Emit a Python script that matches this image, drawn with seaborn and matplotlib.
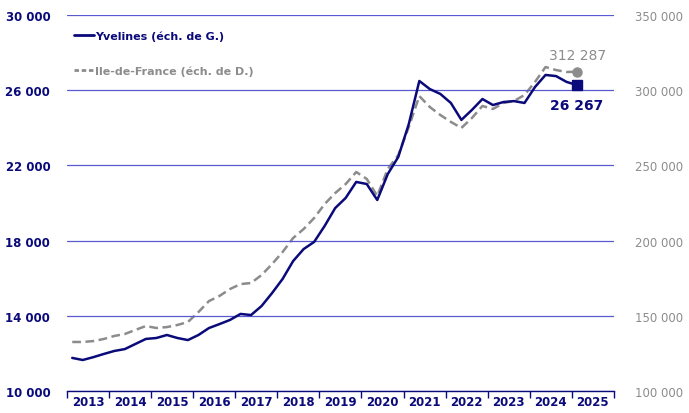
import matplotlib
matplotlib.use("Agg")
import matplotlib.pyplot as plt
import seaborn as sns
import numpy as np
import pandas as pd
from matplotlib.ticker import FuncFormatter, FixedLocator
from matplotlib.lines import Line2D

# ---- data (quarterly, 2013 Q1 -> 2025 Q1) ----
years = list(range(2013, 2026))
quarters = [f"{y}T{q}" for y in range(2013, 2025) for q in range(1, 5)] + ["2025T1"]

yvelines = [11760, 11650, 11800, 11970,
            12130, 12230, 12500, 12770,
            12820, 12980, 12820, 12710,
            12980, 13350, 13560, 13780,
            14100, 14040, 14520, 15210,
            15960, 16910, 17550, 17930,
            18780, 19730, 20270, 21120,
            21010, 20160, 21540, 22450,
            24200, 26490, 26060, 25800,
            25320, 24420, 24950, 25530,
            25210, 25370, 25420, 25320,
            26170, 26810, 26750, 26440,
            26267]

idf = [132600, 132600, 133200, 134600,
       136600, 137900, 140600, 143200,
       141900, 142500, 143900, 145900,
       152500, 159800, 163200, 167800,
       171100, 171800, 177100, 184400,
       192400, 201700, 207700, 215000,
       224300, 231600, 237600, 245600,
       241000, 229700, 247600, 256900,
       275500, 296100, 288800, 283500,
       278900, 274900, 281500, 289500,
       287500, 291500, 292800, 296800,
       305500, 315400, 313400, 312100,
       312287]

left_ticks = [10000, 14000, 18000, 22000, 26000, 30000]
right_ticks = [100000, 150000, 200000, 250000, 300000, 350000]
label_yv = "Yvelines (éch. de G.)"
label_idf = "Ile-de-France (éch. de D.)"

# positions (mid-quarter)
xpos = [int(q[:4]) + (int(q[-1]) - 0.5) / 4 for q in quarters]
df = pd.DataFrame({"x": xpos, "yv": yvelines, "idf": idf})

NAVY = "#0a0a7a"
GRAY = "#8c8c8c"
GRID = "#5a5ad0"

sns.set_theme(style="white")
plt.rcParams["font.family"] = ["DejaVu Sans"]

fig = plt.figure(figsize=(6.89, 4.14), dpi=100)
ax = fig.add_axes([0.0972, 0.0531, 0.891 - 0.0972, 0.9614 - 0.0531])
ax2 = ax.twinx()

fmt = FuncFormatter(lambda v, p: f"{int(v):,}".replace(",", " "))

# left axis
ax.set_ylim(10000, 30000)
ax.set_yticks(left_ticks)
ax.yaxis.set_major_formatter(fmt)
for t in left_ticks:
    ax.axhline(t, color=GRID, lw=0.9, zorder=0)
ax.set_xlim(2013, 2026)

# right axis
ax2.set_ylim(100000, 350000)
ax2.set_yticks(right_ticks)
ax2.yaxis.set_major_formatter(fmt)
ax2.grid(False)
ax.grid(False)

sns.lineplot(data=df, x="x", y="idf", ax=ax2, color=GRAY, lw=1.8,
             linestyle=(0, (3.5, 1.8)), zorder=2)
sns.lineplot(data=df, x="x", y="yv", ax=ax, color=NAVY, lw=1.8, zorder=3)
ax.set_zorder(ax2.get_zorder() + 1)
ax.patch.set_visible(False)

# end markers
ax2.plot(df["x"].iloc[-1], df["idf"].iloc[-1], "o", color=GRAY, ms=6.5, zorder=4)
ax.plot(df["x"].iloc[-1], df["yv"].iloc[-1], "s", color=NAVY, ms=6.5, zorder=4)

# annotations
ax2.annotate(fmt(idf[-1], None), (df["x"].iloc[-1], idf[-1]),
             xytext=(0, 7), textcoords="offset points", ha="center", va="bottom",
             color=GRAY, fontsize=10)
ax.annotate(fmt(yvelines[-1], None), (df["x"].iloc[-1], yvelines[-1]),
            xytext=(0, -9), textcoords="offset points", ha="center", va="top",
            color=NAVY, fontsize=10, fontweight="bold")

# x axis
ax.xaxis.set_major_locator(FixedLocator(list(range(2013, 2027))))
ax.xaxis.set_minor_locator(FixedLocator([y + 0.5 for y in years]))
ax.xaxis.set_major_formatter(FuncFormatter(lambda v, p: ""))
ax.xaxis.set_minor_formatter(FuncFormatter(lambda v, p: str(int(v))))
ax.tick_params(axis="x", which="major", direction="out", length=5, width=1,
               color=NAVY, bottom=True)
ax.tick_params(axis="x", which="minor", length=0, pad=3, labelsize=8.5,
               labelcolor=NAVY, bottom=True)
for lab in ax.xaxis.get_minorticklabels():
    lab.set_fontweight("bold")

ax.tick_params(axis="y", length=0, pad=12, labelsize=8.5, labelcolor=NAVY)
for lab in ax.get_yticklabels():
    lab.set_fontweight("bold")
ax2.tick_params(axis="y", length=0, pad=15, labelsize=8.5, labelcolor=GRAY)

ax.set_xlabel("")
ax.set_ylabel("")
ax2.set_ylabel("")

for a in (ax, ax2):
    for s in ("top", "left", "right", "bottom"):
        a.spines[s].set_visible(False)
ax.spines["bottom"].set_visible(True)
ax.spines["bottom"].set_color(NAVY)
ax.spines["bottom"].set_linewidth(1.0)

# legend
handles = [Line2D([0], [0], color=NAVY, lw=2.0),
           Line2D([0], [0], color=GRAY, lw=2.0, linestyle=(0, (1.6, 1.0)))]
leg = ax.legend(handles, [label_yv, label_idf], loc="upper left",
                bbox_to_anchor=(-0.005, 0.985), frameon=False, fontsize=8,
                handlelength=1.8, handletextpad=0.1, labelspacing=2.2)
leg.get_texts()[0].set_color(NAVY)
leg.get_texts()[0].set_fontweight("bold")
leg.get_texts()[1].set_color(GRAY)
leg.get_texts()[1].set_fontweight("bold")

fig.savefig("out.png", dpi=100)
